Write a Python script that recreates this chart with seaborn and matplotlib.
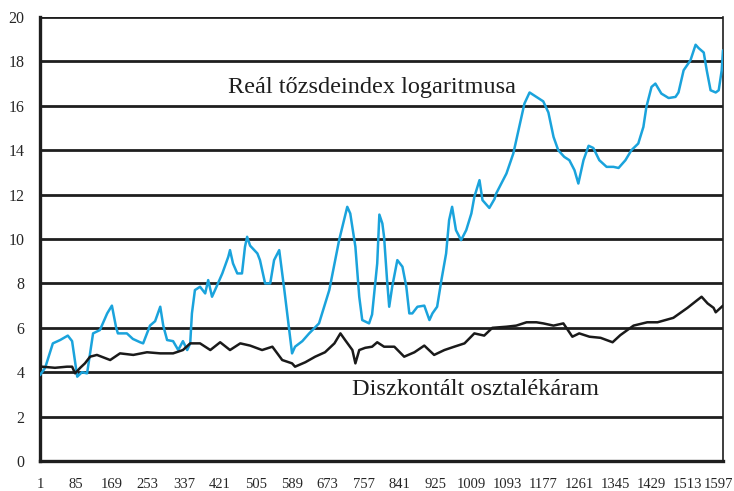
import matplotlib
matplotlib.use("Agg")
import matplotlib.pyplot as plt
import matplotlib.transforms as mtransforms
import seaborn as sns
import pandas as pd

# Reál tőzsdeindex logaritmusa (kék)
real_x = [1, 13, 31, 48, 66, 76, 88, 99, 111, 125, 141, 158, 169, 179, 183, 204, 218, 235,
          242, 258, 270, 282, 289, 298, 312, 324, 335, 345, 352, 356, 363, 375, 387, 394,
          403, 410, 427, 441, 445, 452, 462, 473, 480, 485, 492, 509, 515, 527, 539, 548,
          560, 562, 572, 590, 597, 614, 630, 653, 677, 700, 719, 726, 738, 747, 754, 770,
          777, 789, 794, 801, 805, 812, 817, 824, 836, 848, 857, 864, 871, 883, 899, 911,
          918, 929, 939, 950, 957, 964, 973, 985, 997, 1009, 1016, 1028, 1035, 1051, 1063,
          1067, 1079, 1091, 1107, 1121, 1133, 1145, 1161, 1177, 1189, 1201, 1212, 1226,
          1238, 1250, 1259, 1271, 1283, 1294, 1308, 1325, 1341, 1353, 1369, 1383, 1399,
          1411, 1418, 1430, 1439, 1453, 1470, 1486, 1493, 1505, 1521, 1533, 1540, 1552,
          1559, 1568, 1580, 1587, 1594, 1597]
real_y = [3.87, 4.2, 5.3, 5.45, 5.65, 5.4, 3.8, 4.0, 3.95, 5.75, 5.9, 6.65, 7.0, 6.0, 5.75,
          5.75, 5.5, 5.35, 5.3, 6.1, 6.3, 6.95, 6.1, 5.45, 5.4, 5.0, 5.4, 5.0, 5.3, 6.65,
          7.7, 7.85, 7.55, 8.15, 7.4, 7.7, 8.45, 9.2, 9.5, 8.9, 8.45, 8.45, 9.65, 10.1, 9.7,
          9.35, 9.05, 8.0, 8.0, 9.05, 9.5, 9.2, 7.7, 4.85, 5.15, 5.4, 5.75, 6.2, 7.7, 9.95,
          11.45, 11.15, 9.65, 7.4, 6.35, 6.2, 6.6, 8.9, 11.1, 10.7, 10.1, 8.15, 6.95, 7.85,
          9.05, 8.75, 7.85, 6.65, 6.65, 6.95, 7.0, 6.35, 6.65, 6.95, 8.15, 9.35, 10.85,
          11.45, 10.4, 9.95, 10.4, 11.15, 11.9, 12.65, 11.75, 11.4, 11.8, 12.05, 12.5,
          12.95, 13.85, 15.05, 16.1, 16.6, 16.4, 16.2, 15.7, 14.6, 14.0, 13.7, 13.55, 13.1,
          12.5, 13.55, 14.2, 14.1, 13.55, 13.25, 13.25, 13.2, 13.55, 14.0, 14.3, 15.05,
          15.95, 16.85, 17.0, 16.55, 16.35, 16.4, 16.6, 17.6, 18.05, 18.75, 18.6, 18.4,
          17.6, 16.7, 16.6, 16.7, 17.6, 18.5]

# Diszkontált osztalékáram (fekete)
div_x = [1, 6, 36, 64, 76, 83, 95, 106, 118, 134, 165, 188, 219, 251, 282, 312, 335, 352,
         375, 399, 422, 445, 469, 492, 520, 544, 567, 590, 597, 621, 644, 667, 689, 703,
         714, 731, 738, 747, 761, 777, 789, 805, 829, 852, 876, 899, 922, 946, 969, 993,
         1016, 1039, 1058, 1091, 1114, 1138, 1161, 1177, 1201, 1224, 1245, 1261, 1285,
         1311, 1339, 1357, 1388, 1420, 1444, 1481, 1514, 1537, 1547, 1561, 1575, 1580, 1597]
div_y = [4.2, 4.25, 4.2, 4.25, 4.25, 3.95, 4.2, 4.4, 4.7, 4.78, 4.55, 4.85, 4.78, 4.9,
         4.85, 4.85, 5.0, 5.3, 5.3, 5.0, 5.35, 5.0, 5.3, 5.2, 5.0, 5.15, 4.55, 4.4, 4.25,
         4.45, 4.7, 4.9, 5.3, 5.75, 5.45, 5.0, 4.4, 5.0, 5.1, 5.15, 5.35, 5.15, 5.15, 4.7,
         4.9, 5.2, 4.78, 5.0, 5.15, 5.3, 5.75, 5.65, 6.0, 6.05, 6.1, 6.25, 6.25, 6.2, 6.1,
         6.2, 5.6, 5.75, 5.6, 5.55, 5.35, 5.67, 6.1, 6.25, 6.25, 6.45, 6.9, 7.25, 7.4, 7.1,
         6.9, 6.7, 7.0]

x_ticks = list(range(1, 1598, 84))
y_ticks = list(range(0, 21, 2))

sns.set_style("white")
plt.rcParams['font.family'] = ['Liberation Serif', 'DejaVu Serif']

fig = plt.figure(figsize=(7.34, 4.91), dpi=100)
ax = fig.add_axes([0.0545, 0.061, 0.9305, 0.9044])

real = pd.DataFrame({'t': real_x, 'v': real_y})
div = pd.DataFrame({'t': div_x, 'v': div_y})

for y in y_ticks[1:]:
    ax.axhline(y, color='#1e1e1e', lw=2.0, zorder=1)

sns.lineplot(data=real, x='t', y='v', ax=ax, color='#1aa3dc', lw=1.8, zorder=3)
sns.lineplot(data=div, x='t', y='v', ax=ax, color='#1a1a1a', lw=1.8, zorder=3)

ax.set_xlim(1, 1597)
ax.set_ylim(0, 20)
ax.set_xticks(x_ticks)
ax.set_yticks(y_ticks)
ax.set_xlabel('')
ax.set_ylabel('')
ax.tick_params(axis='y', length=5, width=2, color='#1e1e1e', pad=6, labelsize=11.5)
ax.tick_params(axis='x', length=0, pad=12, labelsize=10.5)

# keep the last x label inside the figure
last = ax.get_xticklabels()[-1]
last.set_horizontalalignment('right')
last.set_transform(last.get_transform() + mtransforms.ScaledTranslation(0.1, 0, fig.dpi_scale_trans))

for side in ['left', 'bottom']:
    ax.spines[side].set_linewidth(2.4)
    ax.spines[side].set_color('#1e1e1e')
ax.spines['right'].set_linewidth(1.2)
ax.spines['right'].set_color('#1e1e1e')
ax.spines['top'].set_visible(False)

ax.text(441, 16.58, 'Reál tőzsdeindex logaritmusa', fontsize=17.5, color='#1e1e1e', va='baseline')
ax.text(731, 2.97, 'Diszkontált osztalékáram', fontsize=17.5, color='#1e1e1e', va='baseline')

fig.savefig('out.png', dpi=100)
